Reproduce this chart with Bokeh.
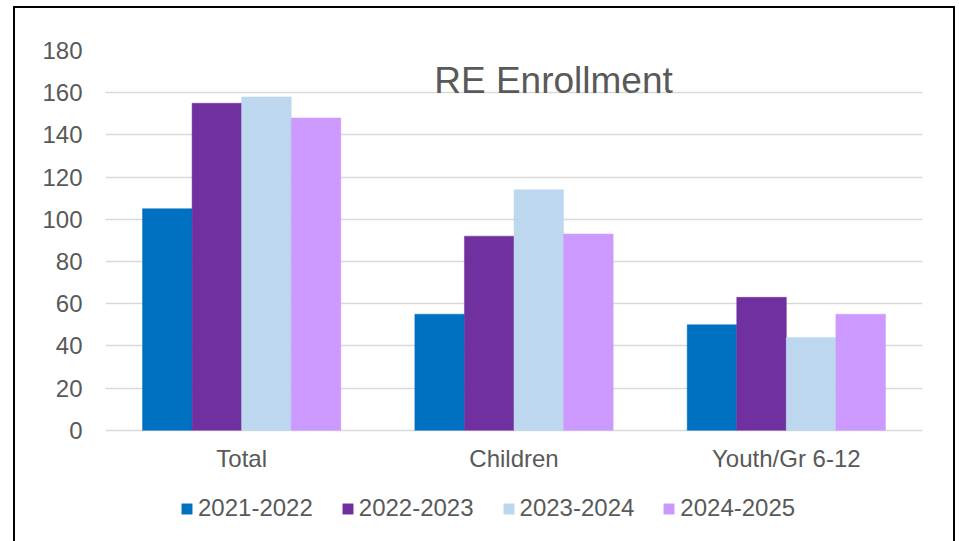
from bokeh.plotting import figure
from bokeh.models import (FactorRange, Range1d, FixedTicker, Legend, LegendItem,
                          Label, ColumnDataSource)
from bokeh.transform import dodge
from bokeh.core.properties import value
from bokeh.embed import file_html
from bokeh.resources import INLINE

categories = ["Total", "Children", "Youth/Gr 6-12"]
years = ["2021-2022", "2022-2023", "2023-2024", "2024-2025"]
v2021_2022 = [105, 55, 50]
v2022_2023 = [155, 92, 63]
v2023_2024 = [158, 114, 44]
v2024_2025 = [148, 93, 55]
y_ticks = [0, 20, 40, 60, 80, 100, 120, 140, 160, 180]
title_text = "RE Enrollment"

colors = ["#0070C0", "#7030A0", "#BDD7EE", "#CC99FF"]
FONT = "Liberation Sans"
TXT = "#595959"

# layout (pixels)
TOP_B, FRAME_H = 42, 492
PX_PER_UNIT = 379 / 180.0
y_start = 180 - FRAME_H / PX_PER_UNIT

source = ColumnDataSource(data=dict(
    cat=categories,
    y0=v2021_2022, y1=v2022_2023, y2=v2023_2024, y3=v2024_2025,
    lab_y=[-28 / PX_PER_UNIT] * len(categories),
))

p = figure(x_range=FactorRange(*categories, range_padding=0),
           y_range=Range1d(y_start, 180),
           width=942, height=535,
           min_border_left=90, min_border_right=35,
           min_border_top=TOP_B, min_border_bottom=0,
           output_backend="svg", toolbar_location=None)
p.styles = {"border": "2px solid black", "border-bottom": "none"}
p.margin = (6, 0, 0, 13)

bw = 0.182
offsets = [-1.5 * bw, -0.5 * bw, 0.5 * bw, 1.5 * bw]
items = []
for i, (yr, col) in enumerate(zip(years, colors)):
    r = p.vbar(x=dodge("cat", offsets[i], range=p.x_range), top=f"y{i}",
               bottom=0, width=bw, source=source, fill_color=col,
               line_color=col, line_width=0.5)
    items.append(LegendItem(label=yr, renderers=[r]))

# category labels (x axis at value 0)
p.text(x="cat", y="lab_y", text="cat", source=source, text_align="center",
       text_baseline="middle", text_font=value(FONT),
       text_font_size="24px", text_color=TXT)

legend = Legend(items=items, orientation="horizontal", location=(75, 21),
                padding=0, margin=0, border_line_alpha=0,
                background_fill_alpha=0, glyph_width=13, glyph_height=13,
                label_standoff=5, spacing=28,
                label_text_font=FONT, label_text_font_size="24px",
                label_text_color=TXT)
p.add_layout(legend)

p.add_layout(Label(x=1.645, y=166, text=title_text, text_align="center",
                   text_baseline="middle", text_font=FONT,
                   text_font_size="37px", text_color=TXT))

p.outline_line_color = None
p.xgrid.grid_line_color = None
p.ygrid.grid_line_color = "#D9D9D9"
p.ygrid.grid_line_width = 1.5
p.yaxis.ticker = FixedTicker(ticks=y_ticks)
p.yaxis.axis_line_color = None
p.yaxis.major_tick_line_color = None
p.yaxis.minor_tick_line_color = None
p.yaxis.major_label_standoff = 17
p.yaxis.major_label_text_font = FONT
p.yaxis.major_label_text_font_size = "24px"
p.yaxis.major_label_text_color = TXT
p.xaxis.visible = False

open("out.html", "w").write(file_html(p, INLINE))
